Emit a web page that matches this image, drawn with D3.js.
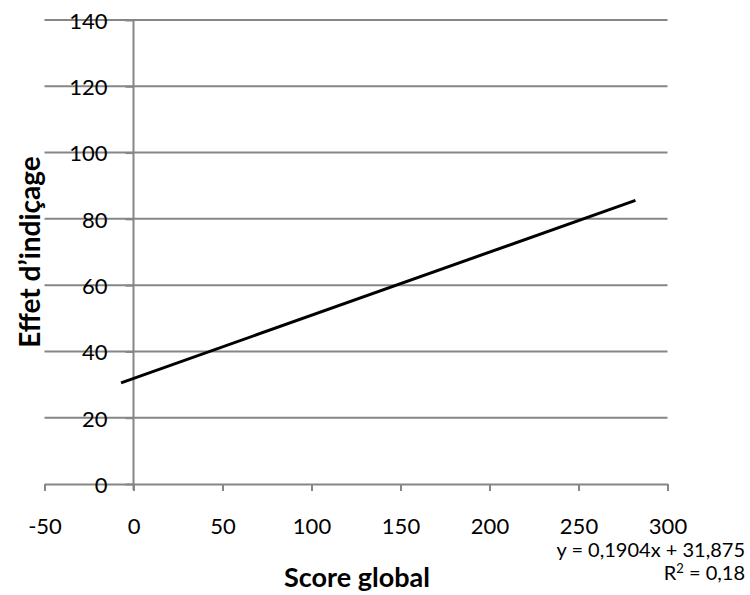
<!DOCTYPE html>
<html>
<head>
<meta charset="utf-8">
<script src="https://cdn.jsdelivr.net/npm/d3@7"></script>
<style>
  body { margin: 0; background: #fff; }
  svg text { font-family: Lato, "Open Sans", sans-serif; fill: #000; }
</style>
</head>
<body>
<div id="container"></div>
<script>
// values
const xTicks = [-50, 0, 50, 100, 150, 200, 250, 300];
const yTicks = [0, 20, 40, 60, 80, 100, 120, 140];
const trendX = [-7, 282];
const trendY = [30.5, 85.6];
const equationLines = ['y = 0,1904x + 31,875', 'R² = 0,18'];

const width = 750, height = 595;

const x = d3.scaleLinear().domain([-50, 300]).range([44.5, 667.5]);
const y = d3.scaleLinear().domain([0, 140]).range([484, 20]);

const svg = d3.select('#container').append('svg')
  .attr('width', width)
  .attr('height', height);

// horizontal gridlines
svg.append('g')
  .selectAll('line')
  .data(yTicks.filter(d => d > 0))
  .enter()
  .append('line')
  .attr('x1', x(-50))
  .attr('x2', x(300))
  .attr('y1', d => y(d))
  .attr('y2', d => y(d))
  .attr('stroke', '#868686')
  .attr('stroke-width', 2);

// x axis (sits at y = 0)
const xAxis = svg.append('g')
  .attr('transform', `translate(0,${y(0)})`)
  .call(d3.axisBottom(x).tickValues(xTicks).tickFormat(d => String(d))
    .tickSize(7).tickSizeOuter(0).tickPadding(27));
xAxis.select('.domain').attr('stroke', '#868686').attr('stroke-width', 2);
xAxis.selectAll('.tick line').attr('stroke', '#868686').attr('stroke-width', 2);
xAxis.selectAll('.tick text').attr('font-size', 22).attr('font-family', 'Lato, sans-serif');

// y axis (sits at x = 0)
const yAxis = svg.append('g')
  .attr('transform', `translate(${x(0)},0)`)
  .call(d3.axisLeft(y).tickValues(yTicks).tickFormat(d => String(d))
    .tickSize(8).tickSizeOuter(0).tickPadding(18));
yAxis.select('.domain').attr('stroke', '#868686').attr('stroke-width', 2)
  .attr('d', `M0,${y(140) - 1}V${y(0) + 6}`);
yAxis.selectAll('.tick line').attr('stroke', '#868686').attr('stroke-width', 2);
yAxis.selectAll('.tick text').attr('font-size', 22).attr('font-family', 'Lato, sans-serif')
  .attr('dy', '0.38em');

// trend line
const line = d3.line().x(d => x(d[0])).y(d => y(d[1]));
svg.append('path')
  .datum(d3.zip(trendX, trendY))
  .attr('d', line)
  .attr('fill', 'none')
  .attr('stroke', '#000')
  .attr('stroke-width', 3);

// axis titles
svg.append('text')
  .attr('x', 357)
  .attr('y', 587)
  .attr('text-anchor', 'middle')
  .attr('font-size', 27)
  .attr('font-weight', 'bold')
  .text('Score global');

svg.append('text')
  .attr('transform', 'translate(40,252) rotate(-90)')
  .attr('text-anchor', 'middle')
  .attr('font-size', 28)
  .attr('font-weight', 'bold')
  .text('Effet d’indiçage');

// equation label (superscript drawn as a raised tspan)
const eq = svg.append('g')
  .selectAll('text')
  .data(equationLines)
  .enter()
  .append('text')
  .attr('x', 745)
  .attr('y', (d, i) => 557 + i * 23)
  .attr('text-anchor', 'end')
  .attr('font-size', 20);
eq.each(function(d) {
  const t = d3.select(this);
  const parts = d.split('²');
  t.append('tspan').text(parts[0]);
  if (parts.length > 1) {
    t.append('tspan').attr('dy', -7).attr('font-size', 13).text('2');
    t.append('tspan').attr('dy', 7).text(parts[1]);
  }
});
</script>
</body>
</html>
